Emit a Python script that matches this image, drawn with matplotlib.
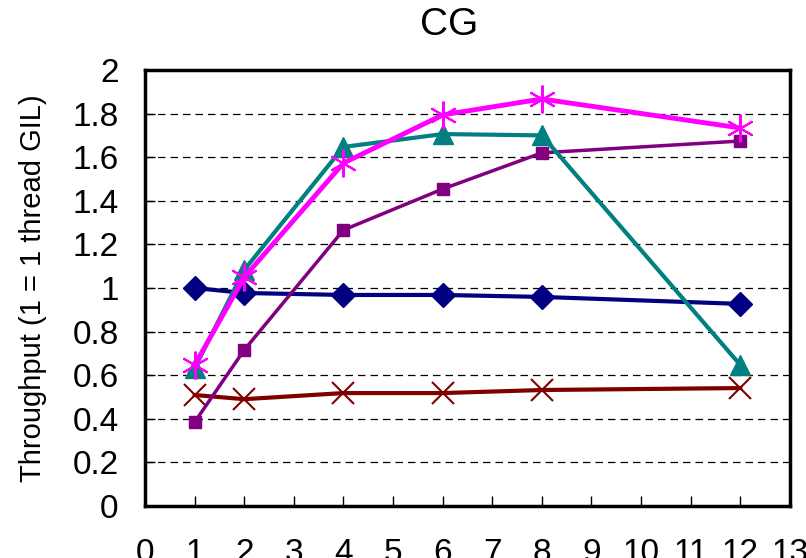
import matplotlib
matplotlib.use("Agg")
import matplotlib.pyplot as plt

plt.rcParams['font.family'] = ['Liberation Sans', 'DejaVu Sans']

threads = [1, 2, 4, 6, 8, 12]

navy_vals = [1.00, 0.977, 0.968, 0.968, 0.959, 0.927]
red_vals = [0.509, 0.490, 0.518, 0.518, 0.532, 0.541]
purple_vals = [0.385, 0.716, 1.266, 1.454, 1.620, 1.674]
teal_vals = [0.633, 1.083, 1.647, 1.706, 1.700, 0.647]
magenta_vals = [0.647, 1.050, 1.573, 1.794, 1.867, 1.734]

x_ticks = list(range(0, 14))
y_ticks = [0, 0.2, 0.4, 0.6, 0.8, 1, 1.2, 1.4, 1.6, 1.8, 2]
y_labels = ['0', '0.2', '0.4', '0.6', '0.8', '1', '1.2', '1.4', '1.6', '1.8', '2']

fig = plt.figure(figsize=(8.06, 5.58), dpi=100)
ax = fig.add_axes([0.180, 0.0932, 0.800, 0.7814])

# gridlines first so the lines sit on top
for yv in y_ticks[1:-1]:
    ax.axhline(yv, color='black', lw=0.9, ls=(0, (6, 4)), zorder=1)

ax.plot(threads, navy_vals, color='#000080', lw=3, marker='D', ms=12,
        zorder=3)
ax.plot(threads, red_vals, color='#800000', lw=3, marker='x', ms=16,
        mew=1.5, zorder=3)
ax.plot(threads, purple_vals, color='#800080', lw=2.5, marker='s', ms=8.5,
        zorder=3)
ax.plot(threads, teal_vals, color='#008080', lw=3, marker='^', ms=15,
        zorder=3)
ax.plot(threads, magenta_vals, color='#FF00FF', lw=3.5, marker=(6, 2, 0),
        ms=20, mew=1.5, zorder=4)

ax.set_xlim(0, 13)
ax.set_ylim(0, 2)
ax.set_xticks(x_ticks)
ax.set_yticks(y_ticks)
ax.set_yticklabels(y_labels)
ax.tick_params(axis='both', direction='in', length=7, width=1, labelsize=24,
               pad=19)
ax.tick_params(axis='x', pad=23)
for s in ax.spines.values():
    s.set_linewidth(2.5)

ax.set_ylabel('Throughput (1 = 1 thread GIL)', fontsize=21)
ax.yaxis.set_label_coords(-0.152, 0.5)
fig.text(0.557, 0.955, 'CG', fontsize=28, ha='center', va='center')

fig.savefig('out.png', dpi=100)
